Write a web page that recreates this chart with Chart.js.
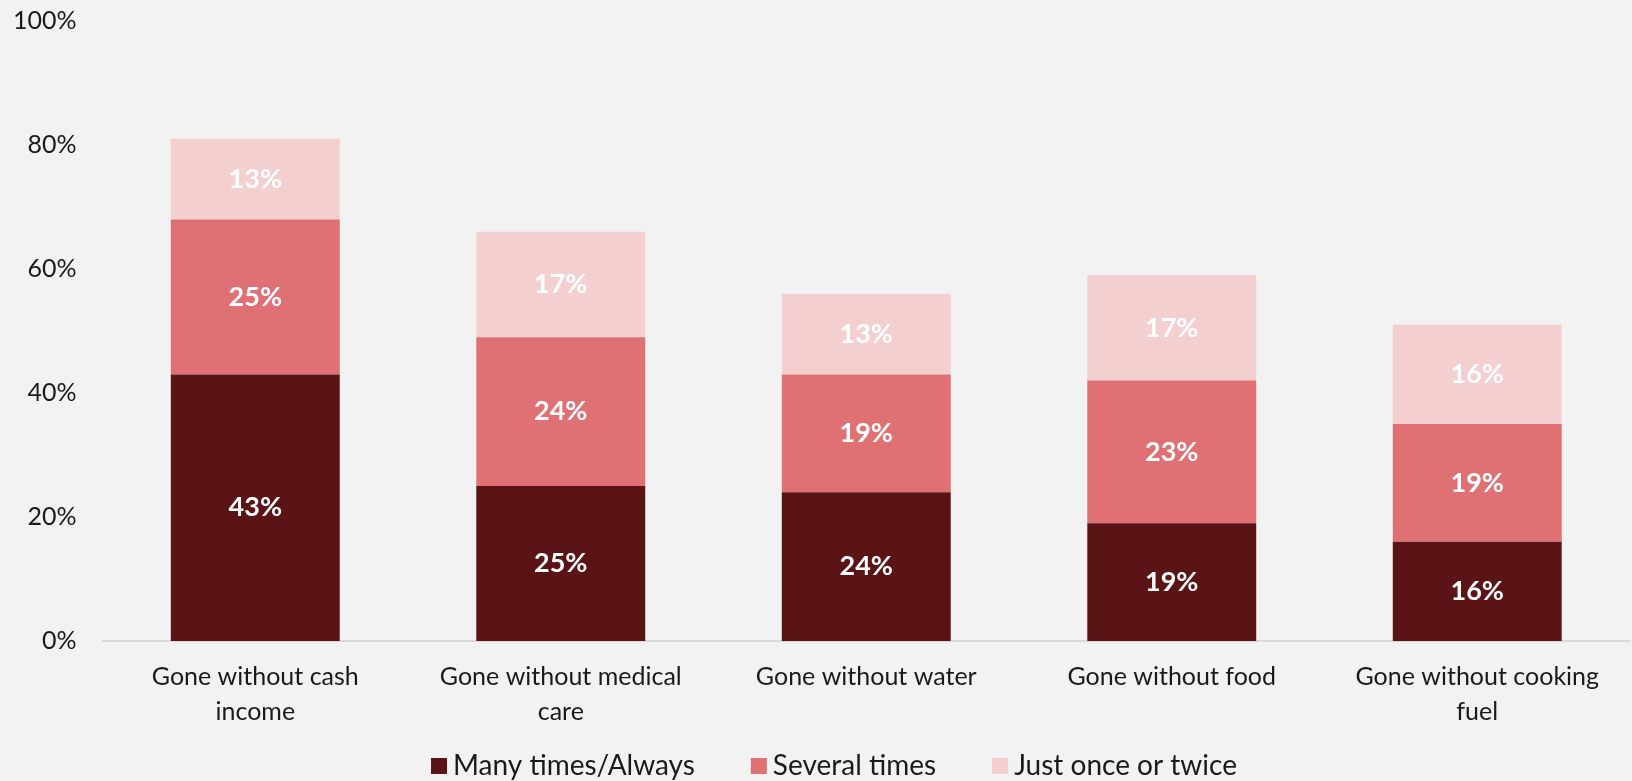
<!DOCTYPE html>
<html>
<head>
<meta charset="utf-8">
<script src="https://cdn.jsdelivr.net/npm/chart.js@4"></script>
<style>
  html, body { margin: 0; padding: 0; background: #f2f2f2; }
  #wrap { width: 1632px; height: 781px; }
</style>
</head>
<body>
<div id="wrap"><canvas id="barchart" width="1632" height="781"></canvas></div>
<script>
var categories = [
  ["Gone without cash", "income"],
  ["Gone without medical", "care"],
  "Gone without water",
  "Gone without food",
  ["Gone without cooking", "fuel"]
];
var manyTimes = [43, 25, 24, 19, 16];
var severalTimes = [25, 24, 19, 23, 19];
var onceOrTwice = [13, 17, 13, 17, 16];
var yTicks = [0, 20, 40, 60, 80, 100];

var fontFace = "'Lato', 'Open Sans', sans-serif";
var textColor = "#1a1a1a";

// writes each segment's value in the middle of the segment
var segmentLabels = {
  id: 'segmentLabels',
  afterDatasetsDraw: function(chart) {
    var ctx = chart.ctx;
    ctx.save();
    ctx.font = "bold 27px " + fontFace;
    ctx.fillStyle = "#ffffff";
    ctx.textAlign = "center";
    ctx.textBaseline = "middle";
    chart.data.datasets.forEach(function(ds, i) {
      chart.getDatasetMeta(i).data.forEach(function(bar, j) {
        var mid = (bar.y + bar.base) / 2;
        ctx.fillText(ds.data[j] + "%", bar.x, mid);
      });
    });
    ctx.restore();
  }
};

// legend row along the bottom: small square, short gap, wide spacing between items
var bottomLegend = {
  id: 'bottomLegend',
  afterDraw: function(chart) {
    var ctx = chart.ctx;
    var box = 16, gap = 6, spacing = 56;
    var y = chart.height - 15;
    ctx.save();
    ctx.font = "28px " + fontFace;
    ctx.textBaseline = "middle";
    var items = chart.data.datasets.map(function(ds) {
      return { text: ds.label, color: ds.backgroundColor, w: ctx.measureText(ds.label).width };
    });
    var total = items.reduce(function(s, it) { return s + box + gap + it.w; }, 0) + spacing * (items.length - 1);
    var x = (chart.width - total) / 2 + 18;
    items.forEach(function(it) {
      ctx.fillStyle = it.color;
      ctx.fillRect(x, y - box / 2, box, box);
      x += box + gap;
      ctx.fillStyle = textColor;
      ctx.fillText(it.text, x, y);
      x += it.w + spacing;
    });
    ctx.restore();
  }
};

var barCanvas = document.getElementById("barchart");

var barData = {
  labels: categories,
  datasets: [{
    label: "Many times/Always",
    backgroundColor: "#5a1416",
    data: manyTimes
  }, {
    label: "Several times",
    backgroundColor: "#df7073",
    data: severalTimes
  }, {
    label: "Just once or twice",
    backgroundColor: "#f4cfd0",
    data: onceOrTwice
  }]
};

var barChart = new Chart(barCanvas, {
  type: 'bar',
  data: barData,
  plugins: [segmentLabels, bottomLegend],
  options: {
    responsive: false,
    animation: false,
    layout: { padding: { top: 21, right: 2, left: -13, bottom: 34 } },
    datasets: {
      bar: { categoryPercentage: 1, barPercentage: 0.553 }
    },
    scales: {
      x: {
        stacked: true,
        grid: { display: false, drawTicks: false },
        border: { color: "#d9d9d9", width: 2 },
        ticks: {
          color: textColor,
          font: { family: fontFace, size: 25, lineHeight: 1.4 },
          padding: 18,
          maxRotation: 0
        }
      },
      y: {
        stacked: true,
        min: 0,
        max: 100,
        afterBuildTicks: function(axis) {
          axis.ticks = yTicks.map(function(v) { return { value: v }; });
        },
        // the horizontal tick padding should not push the plot down from the top
        afterFit: function(axis) {
          axis.paddingTop = 0;
          axis.paddingBottom = 0;
        },
        grid: { display: false, drawTicks: false },
        border: { display: false },
        ticks: {
          color: textColor,
          font: { family: fontFace, size: 25 },
          padding: 26,
          callback: function(v) { return v + "%"; }
        }
      }
    },
    plugins: {
      tooltip: { enabled: false },
      legend: { display: false }
    }
  }
});
</script>
</body>
</html>
